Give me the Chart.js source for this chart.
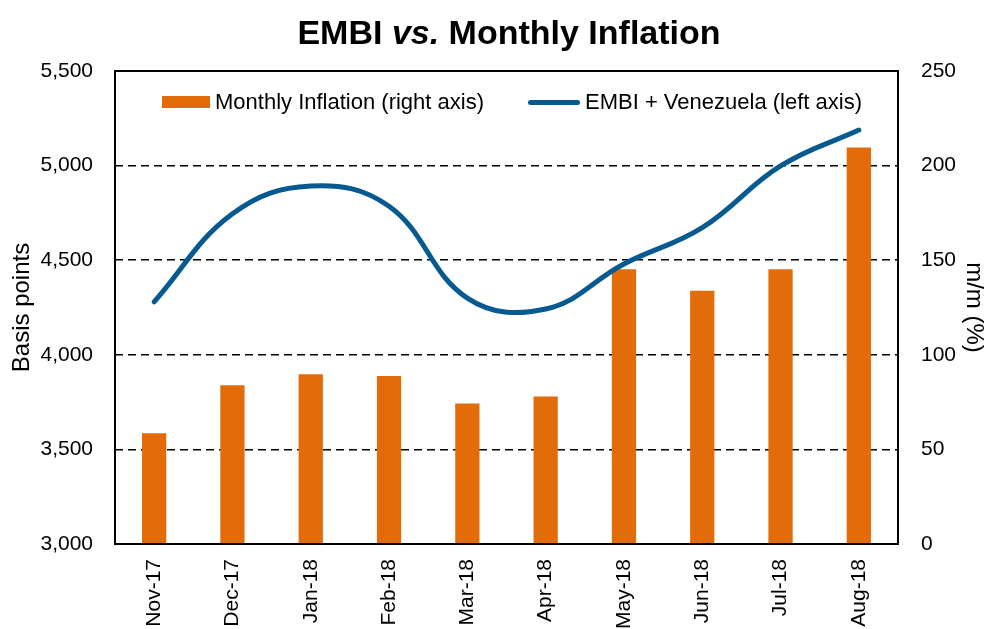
<!DOCTYPE html>
<html>
<head>
<meta charset="utf-8">
<title>EMBI vs. Monthly Inflation</title>
<script src="https://cdn.jsdelivr.net/npm/chart.js@4.4.1/dist/chart.umd.min.js"></script>
<style>
  html, body { margin: 0; padding: 0; background: #fff; }
  #wrap { position: relative; width: 986px; height: 629px; font-family: 'Liberation Sans', Arial, sans-serif; }
  #chart { position: absolute; left: 0; top: 0; }
  #title {
    position: absolute; left: 509px; top: 12px; white-space: nowrap;
    font-size: 34px; line-height: 40px; font-weight: bold; color: #000;
    transform: translateX(-50%);
  }
  #legend { position: absolute; left: 0; top: 91px; width: 986px; height: 22px; }
  .item { position: absolute; display: flex; align-items: center; height: 22px; line-height: 22px;
    font-size: 22px; color: #000; white-space: nowrap; }
  .swatch { margin-right: 5px; }
</style>
</head>
<body>
<div id="wrap">
  <canvas id="chart" width="986" height="629"></canvas>
  <div id="title">EMBI <i>vs.</i> Monthly Inflation</div>
  <div id="legend"></div>
</div>
<script>
// data
const months = ['Nov-17', 'Dec-17', 'Jan-18', 'Feb-18', 'Mar-18', 'Apr-18', 'May-18', 'Jun-18', 'Jul-18', 'Aug-18'];
const inflation = [58.6, 83.9, 89.7, 88.8, 74.2, 78.0, 145.2, 133.8, 145.2, 209.6];
const embi = [4280, 4745, 4892, 4785, 4300, 4242, 4480, 4672, 4998, 5188];

const leftTicks = { min: 3000, max: 5500, step: 500 };
const rightTicks = { min: 0, max: 250, step: 50 };

const ORANGE = '#E36C0A';
const BLUE = '#065A8F';
const FONT = "'Liberation Sans', Arial, sans-serif";

// solid box round the plot area, the inner lines are dashed grid
const frame = {
  id: 'frame',
  afterDraw(chart) {
    const a = chart.chartArea, ctx = chart.ctx;
    ctx.save();
    ctx.strokeStyle = '#000';
    ctx.lineWidth = 2;
    ctx.strokeRect(a.left, a.top, a.right - a.left, a.bottom - a.top);
    ctx.restore();
  }
};

const chart = new Chart(document.getElementById('chart'), {
  type: 'bar',
  data: {
    labels: months,
    datasets: [
      {
        type: 'line',
        label: 'EMBI + Venezuela (left axis)',
        data: embi,
        yAxisID: 'y',
        borderColor: BLUE,
        backgroundColor: BLUE,
        borderWidth: 5,
        borderCapStyle: 'round',
        pointRadius: 0,
        tension: 0.4,
        order: 0
      },
      {
        type: 'bar',
        label: 'Monthly Inflation (right axis)',
        data: inflation,
        yAxisID: 'y1',
        backgroundColor: ORANGE,
        barPercentage: 0.31,
        categoryPercentage: 1,
        order: 1
      }
    ]
  },
  options: {
    responsive: false,
    animation: false,
    layout: { padding: { top: 71, right: 0, bottom: 0, left: 0 } },
    plugins: {
      legend: { display: false },
      tooltip: { enabled: false }
    },
    scales: {
      x: {
        grid: { display: false },
        border: { display: false },
        ticks: {
          color: '#000', font: { family: FONT, size: 21 },
          minRotation: 90, maxRotation: 90, padding: 7
        },
        afterFit: (s) => { s.height = 85; }
      },
      y: {
        position: 'left',
        min: leftTicks.min, max: leftTicks.max,
        grid: {
          drawTicks: false, lineWidth: 1.5,
          color: (c) => (c.tick.value === leftTicks.min || c.tick.value === leftTicks.max) ? 'rgba(0,0,0,0)' : '#000'
        },
        border: { display: false, dash: [8, 5] },
        ticks: {
          stepSize: leftTicks.step, padding: 22, color: '#000',
          font: { family: FONT, size: 21 },
          callback: (v) => v.toLocaleString('en-US')
        },
        title: {
          display: true, text: 'Basis points', color: '#000',
          font: { family: FONT, size: 24, lineHeight: 1 },
          padding: { top: 10, bottom: 0 }
        },
        afterFit: (s) => { s.width = 115; }
      },
      y1: {
        position: 'right',
        min: rightTicks.min, max: rightTicks.max,
        grid: { display: false, drawTicks: false },
        border: { display: false },
        ticks: {
          stepSize: rightTicks.step, padding: 23, color: '#000',
          font: { family: FONT, size: 21 }
        },
        title: {
          display: true, text: 'm/m (%)', color: '#000',
          font: { family: FONT, size: 24, lineHeight: 1 },
          padding: { top: 0, bottom: 0 }
        },
        afterFit: (s) => { s.width = 88; }
      }
    }
  },
  plugins: [frame]
});

// legend sits inside the plot, so it is laid out by hand from the datasets
const legend = document.getElementById('legend');
const legendX = { 'Monthly Inflation (right axis)': 162, 'EMBI + Venezuela (left axis)': 528 };
chart.data.datasets.slice().reverse().forEach((ds) => {
  const item = document.createElement('div');
  item.className = 'item';
  item.style.left = legendX[ds.label] + 'px';
  const sw = document.createElement('span');
  sw.className = 'swatch';
  if (ds.type === 'bar') {
    sw.style.cssText = 'display:inline-block;width:48px;height:12px;background:' + ds.backgroundColor;
  } else {
    sw.style.cssText = 'display:inline-block;width:52px;height:5px;border-radius:3px;background:' + ds.borderColor;
  }
  item.appendChild(sw);
  item.appendChild(document.createTextNode(ds.label));
  legend.appendChild(item);
});
</script>
</body>
</html>
